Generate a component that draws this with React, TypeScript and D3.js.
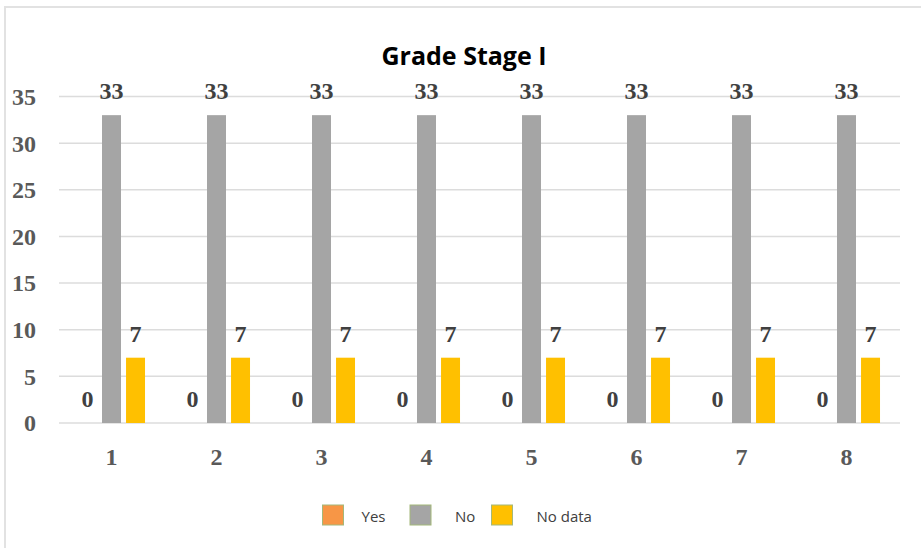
import React from "react";
import * as d3 from "d3";

const categories = ["1", "2", "3", "4", "5", "6", "7", "8"];
const seriesNames = ["Yes", "No", "No data"];
const yesValues = [0, 0, 0, 0, 0, 0, 0, 0];
const noValues = [33, 33, 33, 33, 33, 33, 33, 33];
const noDataValues = [7, 7, 7, 7, 7, 7, 7, 7];
const yTicks = [0, 5, 10, 15, 20, 25, 30, 35];
const seriesColors = ["#F79646", "#A5A5A5", "#FFC000"];
const title = "Grade Stage I";

const W = 921;
const H = 548;

export default function App() {
  const seriesValues = [yesValues, noValues, noDataValues];
  const x0 = d3.scaleBand<string>().domain(categories).range([59, 899]).paddingInner(0).paddingOuter(0);
  const x1 = d3
    .scaleBand<string>()
    .domain(seriesNames)
    .range([0, x0.bandwidth()])
    .paddingInner(0.21)
    .paddingOuter(0.79);
  const y = d3.scaleLinear().domain([0, 35]).range([423, 96.5]);

  const serif = "'Liberation Serif', 'Times New Roman', serif";
  const sans = "'Open Sans', 'Liberation Sans', sans-serif";

  const legendItems = [
    { sx: 322.5, tx: 361.5 },
    { sx: 410, tx: 455 },
    { sx: 491.5, tx: 536.5 },
  ];

  return (
    <svg
      width={W}
      height={H}
      style={{ position: "absolute", left: 0, top: 0, background: "#fff" }}
    >
      <rect x={0} y={0} width={W} height={H} fill="#fff" />
      {/* chart border */}
      <line x1={5} x2={5} y1={6} y2={H} stroke="#E2E2E2" strokeWidth={2} />
      <line x1={5} x2={W} y1={7} y2={7} stroke="#E2E2E2" strokeWidth={2} />

      <text
        x={464}
        y={65}
        textAnchor="middle"
        fontFamily={sans}
        fontWeight={700}
        fontSize={25}
        fill="#000"
      >
        {title}
      </text>

      {yTicks.map((t) => (
        <g key={t}>
          <line x1={59} x2={900} y1={y(t)} y2={y(t)} stroke="#DCDCDC" strokeWidth={1.5} />
          <text
            x={36}
            y={y(t)}
            dy="0.35em"
            textAnchor="end"
            fontFamily={serif}
            fontWeight={700}
            fontSize={24}
            fill="#595959"
          >
            {t}
          </text>
        </g>
      ))}

      {categories.map((c, i) => (
        <g key={c} transform={`translate(${x0(c)},0)`}>
          {seriesNames.map((s, j) => {
            const v = seriesValues[j][i];
            const bx = x1(s)!;
            return (
              <g key={s}>
                {v > 0 && (
                  <rect
                    x={bx}
                    y={y(v)}
                    width={x1.bandwidth()}
                    height={y(0) - y(v)}
                    fill={seriesColors[j]}
                  />
                )}
                <text
                  x={bx + x1.bandwidth() / 2}
                  y={y(v) - 16}
                  textAnchor="middle"
                  fontFamily={serif}
                  fontWeight={700}
                  fontSize={24}
                  fill="#404040"
                >
                  {v}
                </text>
              </g>
            );
          })}
          <text
            x={x1("No")! + x1.bandwidth() / 2}
            y={465}
            textAnchor="middle"
            fontFamily={serif}
            fontWeight={700}
            fontSize={24}
            fill="#595959"
          >
            {c}
          </text>
        </g>
      ))}

      {seriesNames.map((s, j) => (
        <g key={s}>
          <rect
            x={legendItems[j].sx}
            y={505}
            width={21}
            height={20}
            fill={seriesColors[j]}
            stroke="#A3B87A"
            strokeWidth={1}
          />
          <text
            x={legendItems[j].tx}
            y={522}
            fontFamily={sans}
            fontSize={15}
            fill="#404040"
          >
            {s}
          </text>
        </g>
      ))}
    </svg>
  );
}
